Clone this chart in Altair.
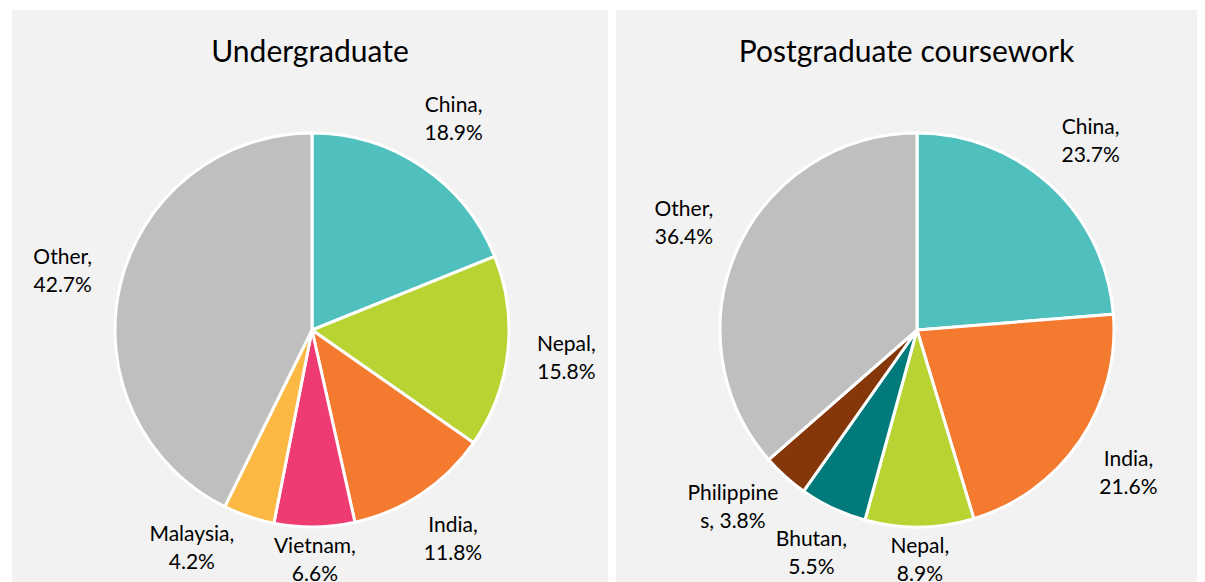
import math
import altair as alt
import pandas as pd

# ---- data -------------------------------------------------------------
ug_countries = ["China", "Nepal", "India", "Vietnam", "Malaysia", "Other"]
ug_values = [18.9, 15.8, 11.8, 6.6, 4.2, 42.7]
ug_labels = ["China,\n18.9%", "Nepal,\n15.8%", "India,\n11.8%",
             "Vietnam,\n6.6%", "Malaysia,\n4.2%", "Other,\n42.7%"]

pg_countries = ["China", "India", "Nepal", "Bhutan", "Philippines", "Other"]
pg_values = [23.7, 21.6, 8.9, 5.5, 3.8, 36.4]
pg_labels = ["China,\n23.7%", "India,\n21.6%", "Nepal,\n8.9%",
             "Bhutan,\n5.5%", "Philippine\ns, 3.8%", "Other,\n36.4%"]

color_domain = ["China", "Nepal", "India", "Vietnam", "Malaysia",
                "Bhutan", "Philippines", "Other"]
color_range = ["#4FC0BE", "#B8D433", "#F37A2F", "#EE3B72", "#FBB843",
               "#017A7B", "#853709", "#BFBFBF"]

FONT = "Lato"
FONT_SIZE = 21
R = 197
LINE_H = 28


def label_radius(a):
    return 230 + 26 * min(1.0, 1.6 * abs(math.sin(a)))


def label_box(label):
    lines = label.split("\n")
    w = max(len(s) for s in lines) * FONT_SIZE * 0.5
    h = len(lines) * LINE_H
    return w, h


def overlaps(a1, l1, a2, l2):
    r1, r2 = label_radius(a1), label_radius(a2)
    x1, y1 = r1 * math.sin(a1), -r1 * math.cos(a1)
    x2, y2 = r2 * math.sin(a2), -r2 * math.cos(a2)
    w1, h1 = label_box(l1)
    w2, h2 = label_box(l2)
    return abs(x1 - x2) < (w1 + w2) / 2 + 30 and abs(y1 - y2) < (h1 + h2) / 2 - 10


def make_df(countries, values, labels):
    total = sum(values)
    rows = []
    cum = 0.0
    mids = []
    for i, (c, v, l) in enumerate(zip(countries, values, labels)):
        start = cum / total * 2 * math.pi
        cum += v
        end = cum / total * 2 * math.pi
        mid = (start + end) / 2
        # simple collision avoidance: rotate a label clockwise away from previous one
        if mids:
            step = math.radians(1)
            tries = 0
            while overlaps(mids[-1], labels[i - 1], mid, l) and tries < 25:
                mid += step
                tries += 1
        mids.append(mid)
        rows.append({"country": c, "value": v, "label": l, "order": i,
                     "start": start, "end": end, "mid": mid,
                     "r": label_radius(mid)})
    return pd.DataFrame(rows)


def pie(countries, values, labels, title, width, cx, cy):
    df = make_df(countries, values, labels)
    base = alt.Chart(df)
    arcs = base.mark_arc(outerRadius=R, stroke="white", strokeWidth=3).encode(
        theta=alt.Theta("start:Q", scale=None),
        theta2=alt.Theta2("end:Q"),
        color=alt.Color("country:N",
                        scale=alt.Scale(domain=color_domain, range=color_range),
                        legend=None),
        x=alt.value(cx), y=alt.value(cy),
    )
    text = base.mark_text(lineBreak="\n", font=FONT, fontSize=FONT_SIZE, lineHeight=LINE_H,
                          color="#000000", align="center", baseline="middle",
                          dy=-LINE_H / 2).encode(
        theta=alt.Theta("mid:Q", scale=None),
        radius=alt.Radius("r:Q", scale=None),
        text=alt.Text("label:N"),
        x=alt.value(cx), y=alt.value(cy),
    )
    return alt.layer(arcs, text).properties(
        width=width, height=572,
        title=alt.TitleParams(title, font=FONT, fontSize=30, fontWeight="normal",
                              color="#000000", anchor="middle", offset=-58,
                              frame="group"),
    )


left = pie(ug_countries, ug_values, ug_labels, "Undergraduate", 596, 300, 320)
right = pie(pg_countries, pg_values, pg_labels, "Postgraduate coursework", 581, 301, 320)

chart = alt.hconcat(left, right, spacing=8).properties(
    padding={"left": 4, "top": 2, "right": 0, "bottom": 0},
    background="white",
).configure_view(fill="#F2F2F2", strokeWidth=0)

chart.save("out.html", embed_options={"renderer": "svg", "actions": False})
